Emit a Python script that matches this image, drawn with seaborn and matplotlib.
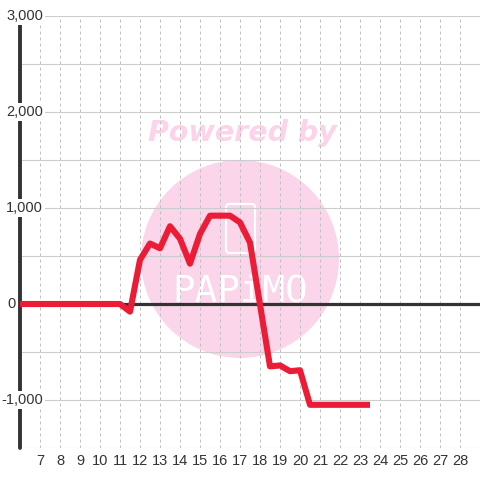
import matplotlib
matplotlib.use("Agg")
import matplotlib.pyplot as plt
import matplotlib.patches as mpatches
import matplotlib.transforms as mtransforms
from matplotlib.ticker import MultipleLocator
import seaborn as sns

# readings (hour of day -> value)
hours = [6, 11, 11.5, 12, 12.5, 13, 13.5, 14, 14.5, 15, 15.5, 16.5, 17, 17.5,
         18.5, 19, 19.5, 20, 20.5, 23.5]
values = [0, 0, -80, 460, 630, 580, 810, 680, 420, 730, 920, 920, 850, 640,
          -650, -640, -700, -690, -1050, -1050]

x_ticks = list(range(7, 29))
y_ticks = [-1000, 0, 1000, 2000, 3000]
y_labels = ["-1,000", "0", "1,000", "2,000", "3,000"]

sns.set_style("whitegrid")
plt.rcParams['font.family'] = ['Liberation Sans', 'DejaVu Sans']

fig = plt.figure(figsize=(4.8, 4.8), dpi=100)
ax = fig.add_axes([20/480, 32/480, 460/480, 432/480])

# watermark
circ = mpatches.Circle((2.40, 2.21), 0.99, transform=fig.dpi_scale_trans,
                       facecolor='#fbd5ea', edgecolor='none', zorder=0.2)
ax.add_patch(circ)
icon = mpatches.FancyBboxPatch((2.26, 2.27), 0.29, 0.49, boxstyle="round,pad=0,rounding_size=0.03",
                               transform=fig.dpi_scale_trans, facecolor='none',
                               edgecolor='white', lw=1.6, zorder=0.25)
ax.add_patch(icon)
ax.text(0.483, 0.729, "Powered by", transform=ax.transAxes, ha='center', va='center',
        fontsize=20.5, fontweight='heavy', fontstyle='italic', color='#fcd3e9',
        family='DejaVu Sans', zorder=0.25)
ax.text(0.478, 0.363, "PAPiMO", transform=ax.transAxes, ha='center', va='center',
        fontsize=27, color='white', family='DejaVu Sans Mono', fontweight='light',
        zorder=0.25)

ax.axhline(0, color='#333333', lw=2.3, zorder=1.8)
sns.lineplot(x=hours, y=values, ax=ax, color='#ec1c36', lw=4.4, zorder=2,
             solid_capstyle='butt')

ax.set_xlim(6, 29)
ax.set_ylim(-1500, 3000)
ax.set_xticks(x_ticks)
ax.set_yticks(y_ticks)
ax.set_yticklabels([])
ax.yaxis.set_minor_locator(MultipleLocator(500))

ax.grid(axis='y', which='both', color='#cccccc', lw=0.8, ls='-')
ax.grid(axis='x', which='major', color='#c0c0c0', lw=0.72, ls=(0, (3, 3)))

for s in ax.spines.values():
    s.set_visible(False)
ax.axvline(6, color='#333333', lw=2.8, zorder=1.0, clip_on=False)

ax.tick_params(axis='both', which='both', length=0, colors='#333333', labelsize=10.5)
ax.tick_params(axis='x', pad=4)

# y labels sit over the axis line, with a white box behind them
trans = mtransforms.blended_transform_factory(ax.transAxes, ax.transData)
for v, lab in zip(y_ticks, y_labels):
    xpos = -0.0087 if v == 0 else 0.05
    ax.text(xpos, v, lab, transform=trans, ha='right', va='center', fontsize=10.5,
            color='#333333', zorder=3, clip_on=False,
            bbox=dict(facecolor='white', edgecolor='none', pad=1.2))
ax.set_xlabel("")
ax.set_ylabel("")

fig.savefig("out.png", dpi=100, facecolor='white')
